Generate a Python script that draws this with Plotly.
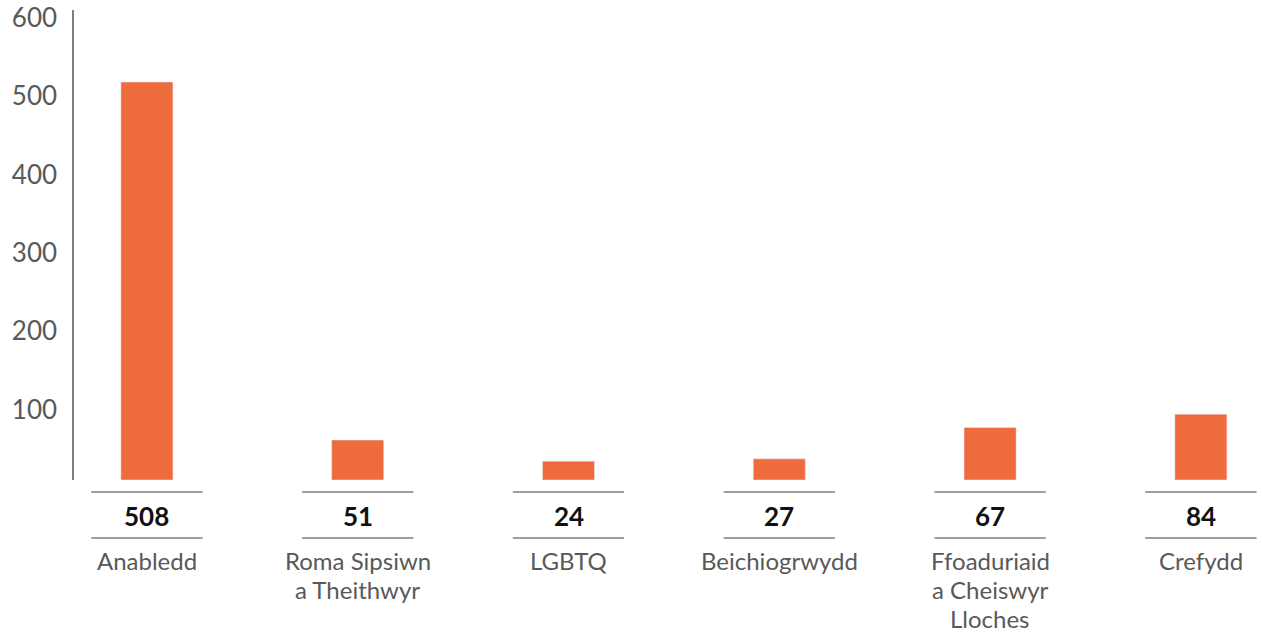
import plotly.graph_objects as go

categories = ["Anabledd", "Roma Sipsiwn<br>a Theithwyr", "LGBTQ", "Beichiogrwydd",
              "Ffoaduriaid<br>a Cheiswyr<br>Lloches", "Crefydd"]
values = [508, 51, 24, 27, 67, 84]
tick_values = [100, 200, 300, 400, 500, 600]

BAR = "#EE6C3B"
GREY = "#595959"
LINE = "#7f7f7f"
FONT = "Lato"

W, H = 1262, 633
plot_left, plot_top, plot_bottom = 74, 10, 480
ml, mr = plot_left, 0
mt = plot_top
mb = H - plot_bottom
plot_h = plot_bottom - plot_top


def py(page_y):
    return (plot_bottom - page_y) / plot_h


xs = list(range(len(categories)))

fig = go.Figure(go.Bar(x=xs, y=values, marker_color=BAR, width=0.247,
                       hoverinfo="skip"))

shapes = []
annotations = []
for i, (cat, v) in enumerate(zip(categories, values)):
    for ly in (492, 538):
        shapes.append(dict(type="line", xref="x", yref="paper",
                           x0=i - 0.264, x1=i + 0.264, y0=py(ly), y1=py(ly),
                           line=dict(color=LINE, width=1.5)))
    annotations.append(dict(x=i, y=py(516), xref="x", yref="paper",
                            text=f"<b>{v}</b>", showarrow=False,
                            yanchor="middle", xanchor="center",
                            font=dict(family=FONT, size=26, color="#111111")))
    for j, line in enumerate(cat.split("<br>")):
        annotations.append(dict(x=i, y=py(560 + 29 * j), xref="x", yref="paper",
                                text=line, showarrow=False, yanchor="middle",
                                xanchor="center",
                                font=dict(family=FONT, size=24, color=GREY)))

fig.update_layout(
    width=W, height=H,
    margin=dict(l=ml, r=mr, t=mt, b=mb, pad=0),
    plot_bgcolor="white", paper_bgcolor="white",
    showlegend=False,
    shapes=shapes, annotations=annotations,
    xaxis=dict(range=[-0.346, 5.29], showticklabels=False, showgrid=False,
               zeroline=False, showline=False, fixedrange=True,
               automargin=False),
    yaxis=dict(range=[0, 600], tickvals=tick_values, showgrid=False,
               zeroline=False, showline=True, linecolor=LINE, linewidth=1.5,
               ticks="", ticklabelstandoff=10, ticklabelshift=8,
               ticklabeloverflow="allow", automargin=False,
               tickfont=dict(family=FONT, size=26, color=GREY),
               fixedrange=True),
)

fig.write_html("out.html",
               config={"displayModeBar": False},
               post_script="document.body.style.margin='0px';document.body.style.overflow='hidden';")
